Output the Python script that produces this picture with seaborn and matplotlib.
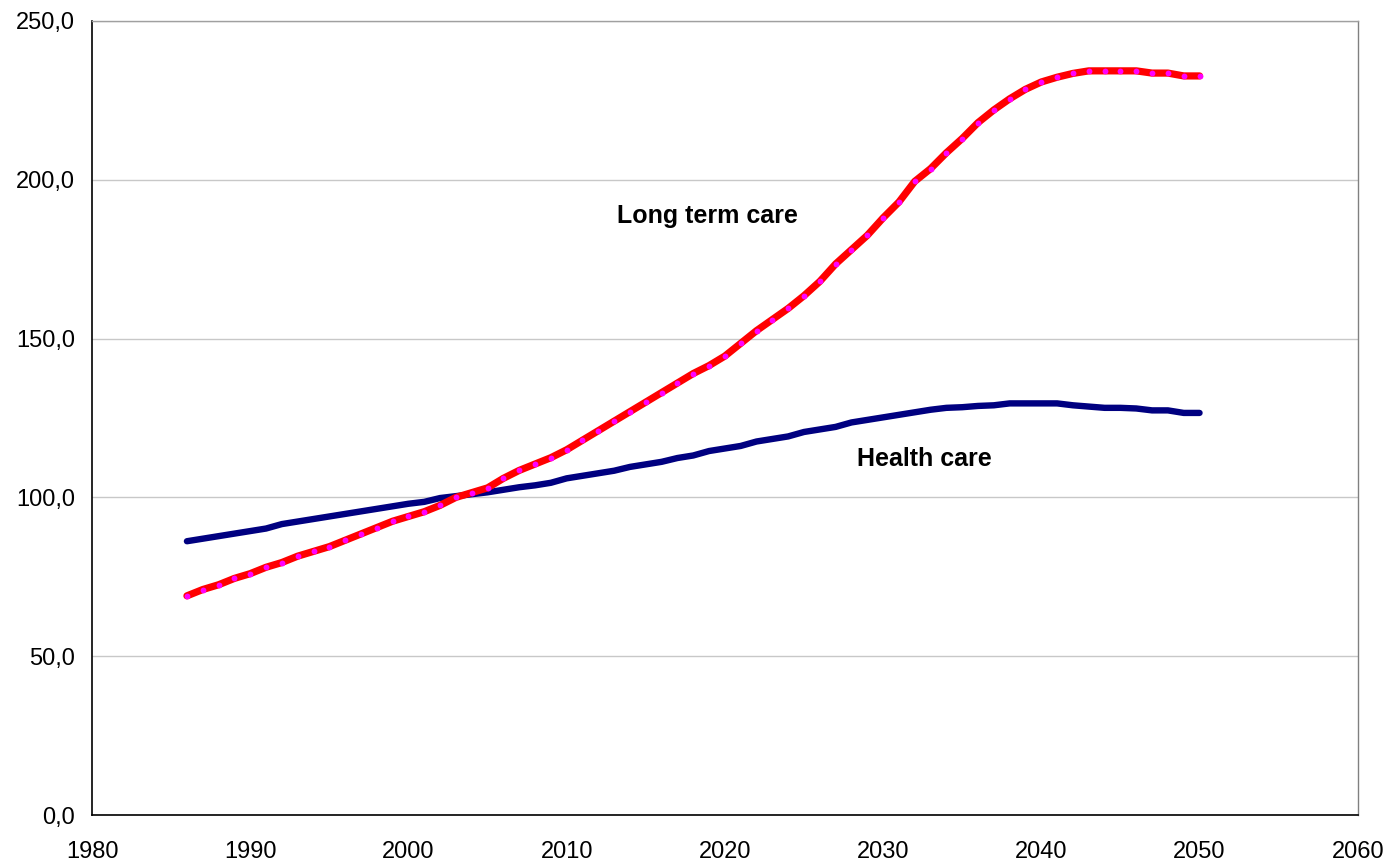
import matplotlib
matplotlib.use("Agg")
import matplotlib.pyplot as plt
import seaborn as sns
import pandas as pd
from matplotlib.ticker import FuncFormatter

years = list(range(1986, 2051))
health_care = [86.2, 87.0, 87.8, 88.6, 89.4, 90.2, 91.6, 92.4, 93.2, 94.0,
               94.8, 95.6, 96.4, 97.2, 98.0, 98.6, 99.8, 100.4, 101.0, 101.6,
               102.4, 103.2, 103.8, 104.6, 106.0, 106.8, 107.6, 108.4, 109.6, 110.4,
               111.2, 112.4, 113.2, 114.6, 115.4, 116.2, 117.6, 118.4, 119.2, 120.6,
               121.4, 122.2, 123.6, 124.4, 125.2, 126.0, 126.8, 127.6, 128.2, 128.4,
               128.8, 129.0, 129.6, 129.6, 129.6, 129.6, 129.0, 128.6, 128.2, 128.2,
               128.0, 127.4, 127.4, 126.6, 126.6]
long_term_care = [69.0, 71.0, 72.5, 74.5, 76.0, 78.0, 79.5, 81.5, 83.0, 84.5,
                  86.5, 88.5, 90.5, 92.5, 94.0, 95.5, 97.5, 100.0, 101.5, 103.0,
                  106.0, 108.5, 110.5, 112.5, 115.0, 118.0, 121.0, 124.0, 127.0, 130.0,
                  133.0, 136.0, 139.0, 141.5, 144.5, 148.5, 152.5, 156.0, 159.5, 163.5,
                  168.0, 173.5, 178.0, 182.5, 188.0, 193.0, 199.5, 203.5, 208.5, 213.0,
                  218.0, 222.0, 225.5, 228.5, 230.8, 232.3, 233.5, 234.3, 234.3, 234.3,
                  234.3, 233.6, 233.6, 232.7, 232.7]
series_labels = ["Health care", "Long term care"]
y_ticks = [0, 50, 100, 150, 200, 250]
x_ticks = [1980, 1990, 2000, 2010, 2020, 2030, 2040, 2050, 2060]

df_h = pd.DataFrame({"year": years, "value": health_care})
df_l = pd.DataFrame({"year": years, "value": long_term_care})

sns.set_style("white")
plt.rcParams['font.family'] = ['Liberation Sans', 'DejaVu Sans']

fig = plt.figure(figsize=(13.94, 8.64), dpi=100)
ax = fig.add_axes([0.066, 0.0567, 0.908, 0.919])

sns.lineplot(data=df_h, x="year", y="value", ax=ax, color="#000080",
             linewidth=4.6, solid_capstyle="round", solid_joinstyle="round", zorder=3)
sns.lineplot(data=df_l, x="year", y="value", ax=ax, color="#FF0000",
             linewidth=5.2, solid_capstyle="round", solid_joinstyle="round", zorder=4,
             marker="o", markersize=4.2, markerfacecolor="#FF00FF",
             markeredgewidth=0)

ax.set_xlim(1980, 2060)
ax.set_ylim(0, 250)
ax.set_xticks(x_ticks)
ax.set_yticks(y_ticks)
ax.yaxis.set_major_formatter(FuncFormatter(lambda v, p: f"{v:.1f}".replace(".", ",")))
ax.xaxis.set_major_formatter(FuncFormatter(lambda v, p: f"{int(v)}"))
ax.set_xlabel("")
ax.set_ylabel("")
ax.grid(axis="y", color="#c8c8c8", linewidth=1.0)
ax.grid(axis="x", visible=False)
ax.set_axisbelow(True)
ax.spines["top"].set_color("#a0a0a0")
ax.spines["top"].set_linewidth(1.0)
ax.spines["right"].set_color("#808080")
ax.spines["right"].set_linewidth(1.0)
for s in ["left", "bottom"]:
    ax.spines[s].set_color("black")
    ax.spines[s].set_linewidth(1.2)
ax.tick_params(axis="both", direction="out", length=5, width=1.2, color="black",
               labelsize=17, labelcolor="black")
ax.tick_params(axis="y", pad=7)
ax.tick_params(axis="x", pad=14)

ax.text(2018.9, 188.6, series_labels[1], fontsize=18, fontweight="bold",
        ha="center", va="center", color="black")
ax.text(2032.6, 112.1, series_labels[0], fontsize=18, fontweight="bold",
        ha="center", va="center", color="black")

fig.savefig("out.png", dpi=100)
